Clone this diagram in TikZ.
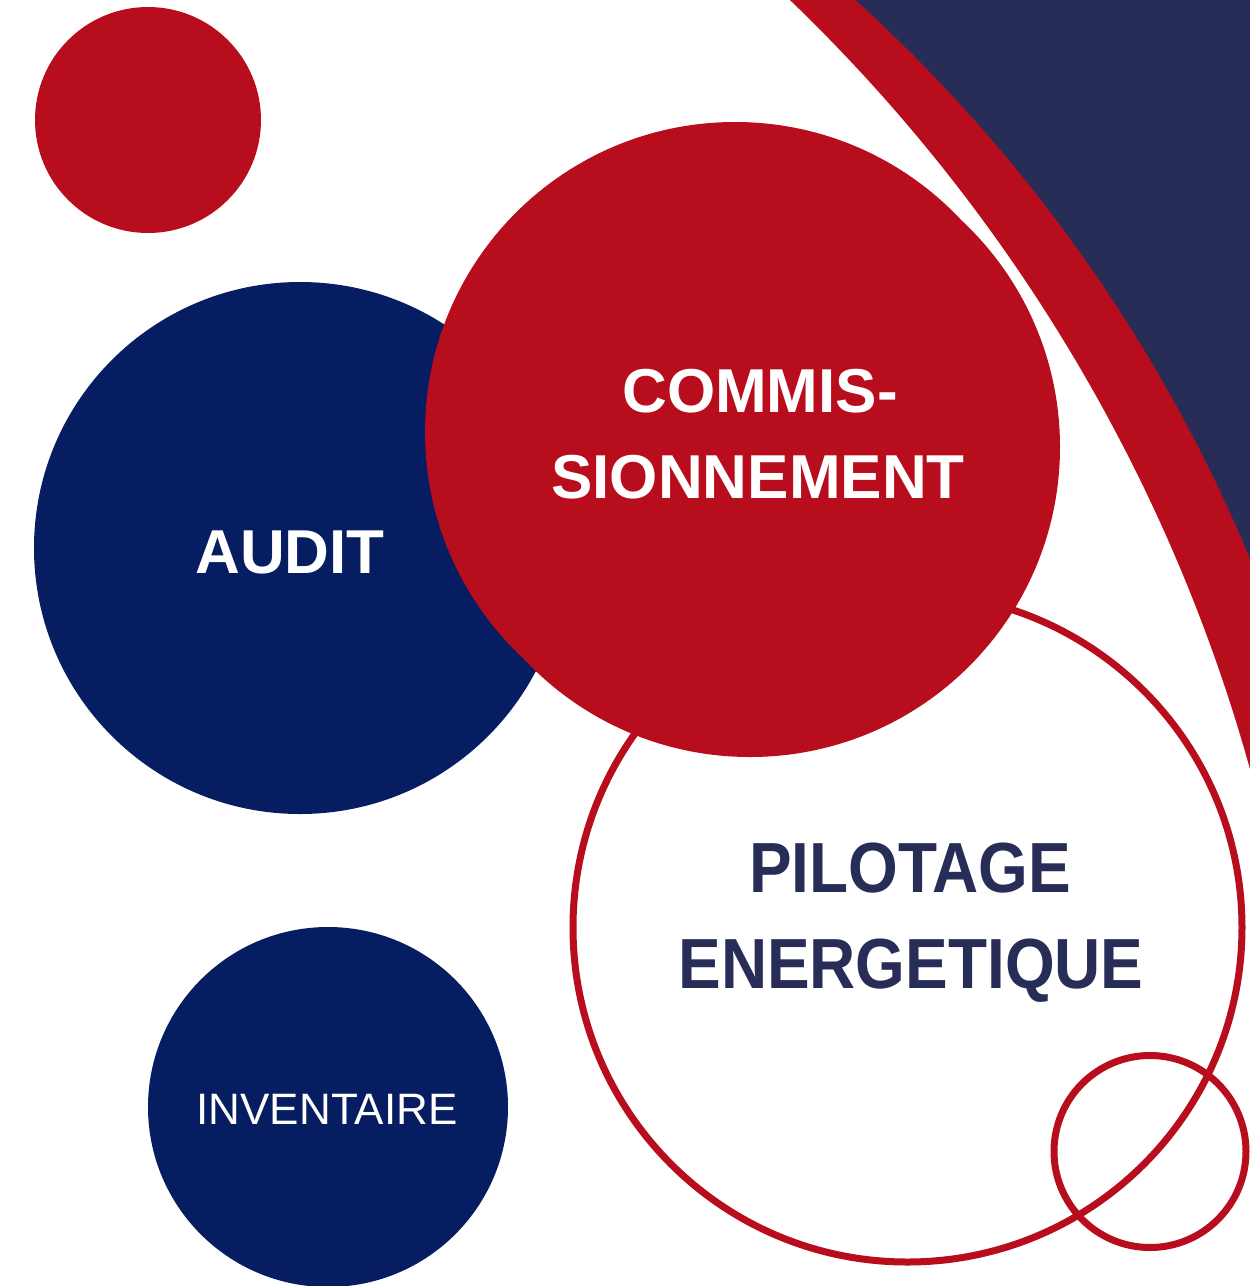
\documentclass[tikz,border=0pt]{standalone}
\usepackage{fontspec}
\setmainfont{Liberation Sans}
\newfontfamily\pilotfont{Liberation Sans}[FakeStretch=0.9]
\definecolor{rouge}{HTML}{B80D1C}
\definecolor{marine}{HTML}{061D62}
\definecolor{ardoise}{HTML}{282D57}
\tikzset{
  lbl/.style={anchor=base, inner sep=0pt, text=white},
  big/.style={font=\fontsize{62}{62}\selectfont\bfseries},
  huge/.style={font=\pilotfont\fontsize{71}{71}\selectfont\bfseries},
  ring/.style={draw=rouge, line width=7pt}}

\begin{document}
\begin{tikzpicture}[x=1pt, y=-1pt]
\useasboundingbox (0,0) rectangle (1250,1286);
% corner band
\begin{scope}
\clip (0,0) rectangle (1250,1286);
\fill[ardoise] (0,0) rectangle (1250,1286);
\fill[rouge] (-193,1158) circle[radius=1562];
\fill[white] (-388,1226) circle[radius=1700];
\end{scope}
% bubbles
\fill[rouge] (148,120) circle[radius=113];
\fill[marine] (300,548) circle[radius=266];
\draw[ring, fill=white] (907.5,927.5) circle[radius=334.5];
\draw[ring] (1150,1151.5) circle[radius=96];
\fill[rouge] (735,432) circle[radius=310] (750,447) circle[radius=310];
\fill[marine] (328,1107) circle[radius=180];
% labels
\node[lbl, big] (audit) at (290,573) {AUDIT};
\node[lbl, big] (commis) at (760,412) {COMMIS-};
\node[lbl, big] (sionne) at (758,498) {SIONNEMENT};
\node[lbl, huge, text=ardoise] (pilot) at (910,892) {PILOTAGE};
\node[lbl, huge, text=ardoise] (energ) at (911,988) {ENERGETIQUE};
\node[lbl, font=\fontsize{44}{44}\selectfont] (invent) at (327,1124) {INVENTAIRE};
\end{tikzpicture}
\end{document}
